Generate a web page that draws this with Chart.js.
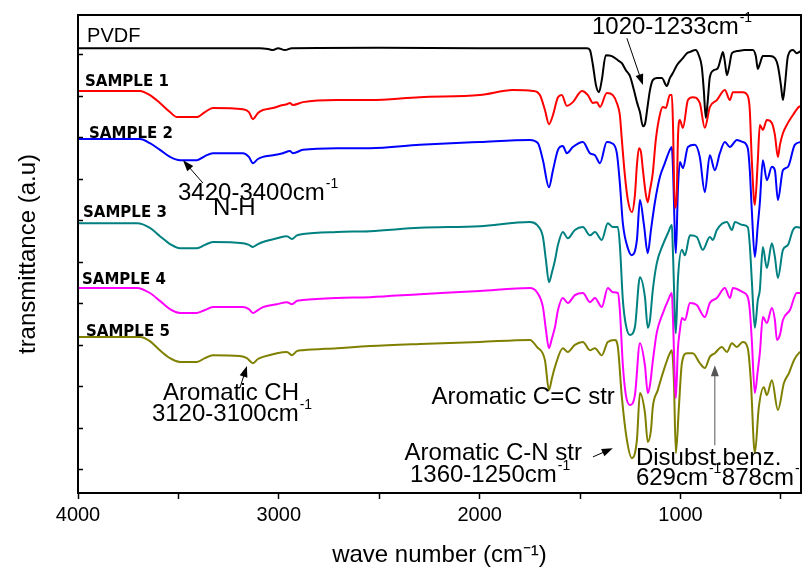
<!DOCTYPE html>
<html>
<head>
<meta charset="utf-8">
<script src="https://cdn.jsdelivr.net/npm/chart.js@4.4.1/dist/chart.umd.min.js"></script>
<style>
  html, body { margin: 0; padding: 0; background: #fff; }
  #wrap { width: 803px; height: 570px; }
</style>
</head>
<body>
<div id="wrap"><canvas id="ftir" width="803" height="570"></canvas></div>
<script>
// FTIR spectra: [wave number (cm-1), transmittance (a.u., stacked)]
var pvdf = [[4000,101.5],[3094,101.5],[3054,101.3],[3029,101.05],[3004,101.5],[2970,101.05],[2935,101.5],[2500,101.6],[2000,101.5],[1466,101.5],
  [1451,101.05],[1436,97.4],[1421,92.6],[1406,90.9],[1392,93.8],[1372,99.8],[1342,99.6],[1312,98.6],[1292,97.9],[1272,96.2],[1252,94.8],
  [1232,91.4],[1217,88.5],[1202,86.1],[1187,82.7],[1177,83.2],[1163,87.8],[1152,91.4],[1138,93.8],[1118,94.3],[1093,94.3],[1068,92.4],
  [1053,94.3],[1038,95.5],[1018,97.4],[988,99.1],[968,100.3],[953,100.6],[924,101.05],[909,99.8],[894,97.0],[884,91.4],[874,84.7],[864,89.0],
  [854,94.5],[834,96.2],[814,96.7],[799,99.1],[789,100.6],[779,98.2],[769,95.0],[759,96.7],[744,100.3],[719,100.8],[680,101.05],[640,101.05],
  [625,99.6],[615,96.5],[605,97.7],[590,99.6],[555,99.6],[530,99.1],[515,97.2],[500,92.6],[490,89.0],[480,92.6],[465,99.6],[440,101.05],
  [421,100.3],[401,100.8]];

var sample1 = [[4000,91.2],[3691,91.2],[3642,90.2],[3592,88.3],[3542,86.1],[3507,84.9],[3408,84.9],[3368,86.1],[3328,87.1],[3179,86.8],
  [3149,86.1],[3129,84.4],[3104,85.9],[3079,86.6],[3029,87.1],[2980,87.8],[2960,88.0],[2945,88.3],[2930,87.8],[2880,88.5],[2711,89.0],
  [2546,89.0],[2298,89.7],[1999,90.2],[1835,91.4],[1735,91.2],[1700,90.2],[1675,86.6],[1655,83.2],[1635,85.4],[1610,89.7],[1591,90.2],
  [1566,87.6],[1536,88.5],[1491,91.2],[1461,90.2],[1436,88.3],[1416,88.5],[1401,87.3],[1367,90.7],[1337,90.2],[1317,88.3],[1302,85.4],
  [1292,79.4],[1277,70.9],[1262,64.9],[1242,62.0],[1227,66.1],[1217,73.3],[1207,77.4],[1197,76.5],[1187,72.1],[1172,66.1],[1163,64.4],
  [1152,67.3],[1138,71.4],[1123,79.4],[1103,85.4],[1088,87.3],[1073,87.1],[1053,90.2],[1043,90.2],[1038,84.2],[1028,63.0],[1018,67.3],
  [1013,79.4],[1003,84.2],[988,82.3],[963,89.0],[939,89.7],[904,88.3],[879,82.3],[854,87.3],[819,89.0],[779,91.4],[754,89.0],[739,90.9],
  [690,90.9],[665,90.0],[655,86.6],[645,74.5],[630,63.7],[615,74.5],[605,83.0],[590,81.8],[570,84.2],[545,83.5],[530,80.6],[515,75.3],
  [505,78.2],[490,81.0],[465,83.5],[440,85.4],[416,87.1],[401,87.6]];

var sample2 = [[4000,79.6],[3691,79.6],[3642,78.6],[3592,77.0],[3542,75.3],[3492,74.5],[3408,74.5],[3368,75.5],[3328,76.2],[3179,76.2],
  [3149,75.3],[3129,73.8],[3104,74.8],[3079,75.3],[3029,75.7],[2980,76.2],[2945,76.7],[2930,76.2],[2880,77.0],[2711,77.4],[2546,77.4],
  [2298,78.2],[1999,78.9],[1750,79.4],[1710,78.6],[1685,74.5],[1655,68.0],[1635,72.1],[1610,77.0],[1586,77.9],[1566,76.2],[1536,77.7],
  [1486,78.9],[1451,76.2],[1426,75.7],[1401,73.8],[1367,78.9],[1342,78.6],[1317,76.2],[1302,69.0],[1287,59.3],[1262,53.3],[1242,51.6],
  [1217,55.3],[1202,64.9],[1182,58.9],[1163,52.1],[1147,57.7],[1128,64.2],[1103,70.4],[1078,73.8],[1053,77.0],[1043,77.7],[1038,73.3],
  [1023,52.1],[1013,67.3],[1003,74.1],[988,72.6],[963,77.7],[929,78.2],[904,75.3],[879,66.8],[854,75.7],[829,72.1],[804,76.2],[779,78.9],
  [754,77.7],[719,79.4],[690,78.9],[665,77.4],[655,72.1],[645,62.5],[630,51.2],[615,58.9],[605,64.2],[590,74.5],[570,69.7],[545,72.9],
  [530,72.1],[515,64.9],[490,72.1],[465,72.9],[431,78.2],[401,78.9]];

var sample3 = [[4000,59.3],[3706,59.3],[3642,58.2],[3592,56.2],[3542,54.3],[3492,53.3],[3408,53.3],[3368,54.1],[3328,54.8],[3179,54.5],
  [3149,54.1],[3129,53.6],[3104,54.3],[3079,54.8],[3009,55.7],[2960,56.2],[2935,55.5],[2910,56.4],[2880,56.7],[2711,57.2],[2546,57.4],
  [2298,58.2],[1999,58.6],[1750,59.6],[1715,58.9],[1685,56.0],[1670,50.4],[1655,45.1],[1640,47.5],[1625,50.4],[1610,54.1],[1586,57.2],
  [1561,55.7],[1526,57.7],[1486,58.4],[1451,56.4],[1426,57.2],[1392,55.3],[1362,59.3],[1337,58.4],[1312,58.4],[1302,54.1],[1287,40.8],
  [1272,34.8],[1252,32.4],[1227,34.3],[1202,46.3],[1177,41.5],[1163,34.1],[1152,36.0],[1138,43.2],[1118,49.7],[1088,54.1],[1063,56.9],
  [1043,58.9],[1038,52.9],[1023,32.8],[1013,45.6],[993,52.9],[978,51.6],[953,56.4],[919,56.0],[889,52.9],[854,56.0],[839,55.3],[819,57.7],
  [769,59.6],[744,57.7],[729,59.6],[690,58.9],[665,58.4],[655,54.1],[645,45.6],[630,34.1],[615,40.8],[605,43.2],[590,53.6],[570,48.5],
  [545,54.5],[530,51.2],[515,46.1],[490,52.9],[465,54.1],[440,57.7],[421,58.4],[401,58.2]];

var sample4 = [[4000,43.7],[3706,43.7],[3642,42.5],[3592,40.6],[3542,38.6],[3492,37.7],[3408,37.7],[3368,38.4],[3328,39.1],[3179,39.1],
  [3149,38.6],[3129,37.7],[3104,38.4],[3079,39.1],[3009,39.8],[2960,40.3],[2935,39.8],[2910,40.6],[2880,40.8],[2711,41.3],[2546,41.5],
  [2298,42.2],[1999,43.0],[1750,43.7],[1715,42.7],[1685,39.1],[1670,33.6],[1655,29.2],[1640,31.6],[1625,34.3],[1610,38.4],[1586,41.3],
  [1561,40.1],[1526,42.0],[1486,42.5],[1451,40.3],[1426,41.3],[1392,39.1],[1362,43.7],[1337,42.7],[1312,42.5],[1302,38.4],[1287,25.1],
  [1272,17.9],[1252,15.5],[1227,17.9],[1202,30.4],[1177,25.0],[1163,18.4],[1152,20.3],[1138,26.0],[1118,33.0],[1088,37.6],[1063,40.6],
  [1043,42.5],[1038,37.0],[1023,17.2],[1013,29.0],[1003,33.5],[993,36.5],[978,36.0],[953,40.1],[919,39.6],[879,36.7],[854,40.1],[819,41.3],
  [779,43.7],[754,41.3],[739,43.7],[690,42.7],[665,41.5],[655,38.4],[645,31.2],[630,18.4],[615,23.9],[605,28.0],[590,36.7],[570,35.3],
  [545,38.9],[530,36.0],[520,31.2],[505,32.4],[490,36.0],[455,38.4],[421,42.5],[401,42.5]];

var sample5 = [[4000,31.9],[3691,31.9],[3642,30.9],[3592,28.7],[3542,26.8],[3492,25.9],[3408,25.9],[3368,26.8],[3328,27.5],[3194,27.3],
  [3159,26.8],[3129,25.6],[3104,26.6],[3079,27.1],[3009,28.0],[2960,28.3],[2935,27.5],[2910,28.5],[2880,28.7],[2711,29.2],[2546,29.7],
  [2298,30.2],[1999,30.7],[1750,31.2],[1715,29.5],[1675,26.3],[1655,19.1],[1640,22.0],[1625,24.7],[1586,29.2],[1561,28.3],[1526,30.0],
  [1486,30.7],[1451,28.7],[1426,29.2],[1392,27.5],[1362,30.7],[1327,31.2],[1312,29.5],[1292,17.4],[1267,7.1],[1242,2.7],[1217,7.1],
  [1202,18.4],[1177,13.6],[1163,6.6],[1147,9.5],[1138,15.0],[1113,19.1],[1088,23.2],[1053,28.0],[1043,28.7],[1033,21.5],[1023,3.9],
  [1008,15.0],[993,25.6],[968,28.0],[939,28.0],[904,25.6],[879,24.4],[854,27.1],[829,28.0],[794,29.5],[769,28.3],[744,30.4],[719,29.5],
  [690,30.7],[665,29.2],[650,21.5],[630,3.9],[610,15.0],[585,19.8],[570,17.9],[545,21.5],[515,14.3],[485,20.8],[460,23.2],[435,26.3],
  [411,28.0],[401,28.3]];

var seriesNames = ["PVDF", "SAMPLE 1", "SAMPLE 2", "SAMPLE 3", "SAMPLE 4", "SAMPLE 5"];
var seriesData = [pvdf, sample1, sample2, sample3, sample4, sample5];
var seriesColors = ["#000000", "#ff0000", "#0000ff", "#008080", "#ff00ff", "#808000"];
var xTickValues = [4000, 3500, 3000, 2500, 2000, 1500, 1000, 500];
var xLabelEvery = 1000;
var yTickValues = [0, 10, 20, 30, 40, 50, 60, 70, 80, 90, 100];

var FONT = "'Liberation Sans', Arial, sans-serif";

var datasets = [];
seriesData.forEach(function(s, i) {
  datasets.push({
    label: seriesNames[i],
    data: s.map(function(p) { return {x: p[0], y: p[1]}; }),
    borderColor: seriesColors[i],
    borderWidth: 2,
    pointRadius: 0,
    fill: false,
    cubicInterpolationMode: 'monotone'
  });
});

// label position of each curve name (wave number, value)
var nameSpots = [[3955, 103.0], [3965, 92.4], [3945, 79.8], [3975, 60.8], [3980, 44.7], [3960, 32.1]];

function px(chart, wn, v) {
  return [chart.scales.x.getPixelForValue(wn), chart.scales.y.getPixelForValue(v)];
}

function textSup(ctx, txt, sup, x, y, align) {
  ctx.font = "24px " + FONT;
  var w = ctx.measureText(txt).width;
  if (align === 'right') x = x - w;
  ctx.fillText(txt, x, y);
  if (sup) {
    ctx.font = "14px " + FONT;
    ctx.fillText(sup, x + w + 1, y - 12);
  }
}

function arrow(ctx, a, b, color) {
  var ang = Math.atan2(b[1] - a[1], b[0] - a[0]);
  ctx.strokeStyle = color;
  ctx.fillStyle = color;
  ctx.lineWidth = 1;
  ctx.beginPath();
  ctx.moveTo(a[0], a[1]);
  ctx.lineTo(b[0] - 8 * Math.cos(ang), b[1] - 8 * Math.sin(ang));
  ctx.stroke();
  ctx.beginPath();
  ctx.moveTo(b[0], b[1]);
  ctx.lineTo(b[0] - 11 * Math.cos(ang) + 4 * Math.sin(ang), b[1] - 11 * Math.sin(ang) - 4 * Math.cos(ang));
  ctx.lineTo(b[0] - 11 * Math.cos(ang) - 4 * Math.sin(ang), b[1] - 11 * Math.sin(ang) + 4 * Math.cos(ang));
  ctx.closePath();
  ctx.fill();
}

var annotate = {
  id: 'annotate',
  afterDraw: function(chart) {
    var ctx = chart.ctx;
    var area = chart.chartArea;
    ctx.save();

    // frame
    ctx.strokeStyle = '#000';
    ctx.lineWidth = 2;
    ctx.strokeRect(area.left, area.top, area.right - area.left, area.bottom - area.top);

    // inward ticks on the left axis
    ctx.lineWidth = 1.5;
    yTickValues.forEach(function(v) {
      var y = Math.round(chart.scales.y.getPixelForValue(v)) + 0.5;
      ctx.beginPath();
      ctx.moveTo(area.left, y);
      ctx.lineTo(area.left + 5, y);
      ctx.stroke();
    });

    ctx.beginPath();
    ctx.rect(area.left, area.top - 20, area.right - area.left, area.bottom - area.top + 20);
    ctx.clip();
    ctx.fillStyle = '#000';
    ctx.textBaseline = 'alphabetic';

    // curve names
    nameSpots.forEach(function(s, i) {
      var p = px(chart, s[0], s[1]);
      ctx.font = i === 0 ? "20px " + FONT : "bold 15px 'DejaVu Sans', sans-serif";
      ctx.fillText(seriesNames[i], p[0], p[1]);
    });

    var p;
    p = px(chart, 3502, 64.9); textSup(ctx, "3420-3400cm", "-1", p[0], p[1]);
    p = px(chart, 3328, 61.3); textSup(ctx, "N-H", null, p[0], p[1]);
    p = px(chart, 3577, 16.7); textSup(ctx, "Aromatic CH", null, p[0], p[1]);
    p = px(chart, 3632, 11.6); textSup(ctx, "3120-3100cm", "-1", p[0], p[1]);
    p = px(chart, 1327, 15.7); textSup(ctx, "Aromatic C=C str", null, p[0], p[1], 'right');
    p = px(chart, 1491, 2.2); textSup(ctx, "Aromatic C-N str", null, p[0], p[1], 'right');
    p = px(chart, 2347, -3.1); textSup(ctx, "1360-1250cm", "-1", p[0], p[1]);
    p = px(chart, 1222, 1.0); textSup(ctx, "Disubst.benz.", null, p[0], p[1]);
    p = px(chart, 1222, -3.8); textSup(ctx, "629cm", "-1", p[0], p[1]);
    p = px(chart, 794, -3.8); textSup(ctx, "878cm", "-1", p[0], p[1]);
    p = px(chart, 1441, 104.9); textSup(ctx, "1020-1233cm", "-1", p[0], p[1]);

    arrow(ctx, px(chart, 1267, 103.9), px(chart, 1187, 92.6), '#000');
    arrow(ctx, px(chart, 3378, 69.0), px(chart, 3477, 74.5), '#000');
    arrow(ctx, px(chart, 3194, 19.6), px(chart, 3159, 24.9), '#000');
    arrow(ctx, px(chart, 1436, 3.0), px(chart, 1337, 5.1), '#000');
    arrow(ctx, px(chart, 829, 5.8), px(chart, 829, 25.1), '#555');

    ctx.restore();
  }
};

new Chart(document.getElementById("ftir"), {
  type: 'line',
  data: { datasets: datasets },
  plugins: [annotate],
  options: {
    responsive: false,
    devicePixelRatio: 1,
    animation: false,
    events: [],
    layout: { padding: { top: 15, right: 2, left: 0, bottom: 0 } },
    plugins: {
      legend: { display: false },
      tooltip: { enabled: false }
    },
    scales: {
      x: {
        type: 'linear',
        reverse: true,
        min: 400,
        max: 4000,
        afterBuildTicks: function(scale) {
          scale.ticks = xTickValues.map(function(v) { return {value: v}; });
        },
        afterFit: function(scale) { scale.height = 77; },
        ticks: {
          autoSkip: false,
          maxRotation: 0,
          color: '#000',
          padding: 4,
          font: { family: FONT, size: 20 },
          callback: function(v) { return v % xLabelEvery === 0 ? v : ''; }
        },
        grid: { drawOnChartArea: false, tickLength: 6, tickColor: '#000', tickWidth: 1.5 },
        border: { display: true, color: '#000', width: 2 },
        title: {
          display: true,
          text: 'wave number (cm\u207B\u00B9)',
          color: '#000',
          font: { family: FONT, size: 24 },
          padding: { top: 6, bottom: 0 }
        }
      },
      y: {
        type: 'linear',
        min: -5.7,
        max: 109.5,
        afterFit: function(scale) { scale.width = 78; },
        ticks: { display: false },
        grid: { display: false },
        border: { display: true, color: '#000', width: 2 },
        title: {
          display: true,
          text: 'transmittance (a.u)',
          color: '#000',
          font: { family: FONT, size: 24 },
          padding: { top: 14, bottom: 0 }
        }
      }
    }
  }
});
</script>
</body>
</html>
